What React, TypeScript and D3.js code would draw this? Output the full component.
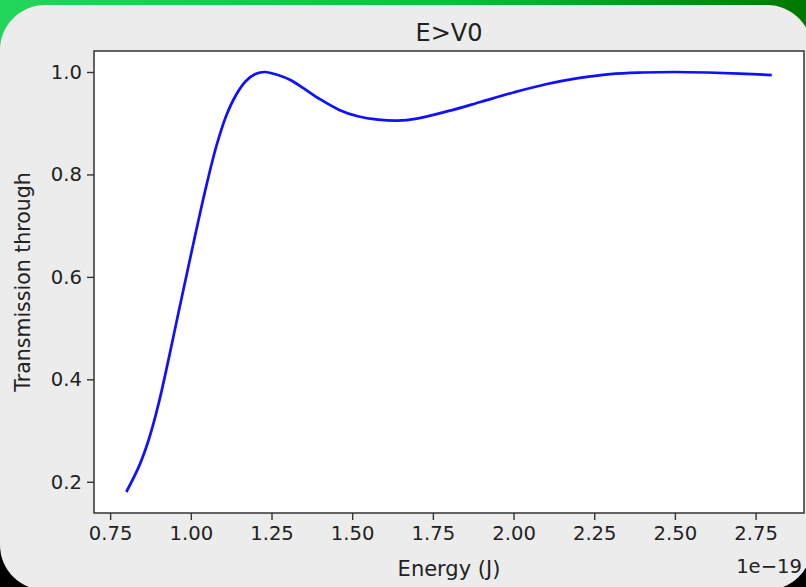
// Transmission through a potential step, E > V0 (matplotlib-style look)
import {useRef, useEffect} from "react";
import * as d3 from "d3";

// energy in units of 1e-19 J
const energy = [0.80, 0.84, 0.87, 0.90, 0.93, 0.96, 0.99, 1.02, 1.05, 1.08, 1.11, 1.14, 1.17, 1.20,
  1.23, 1.27, 1.31, 1.35, 1.40, 1.46, 1.52, 1.58, 1.64, 1.70, 1.80, 1.90, 2.00, 2.10, 2.20, 2.30,
  2.40, 2.50, 2.60, 2.70, 2.80];
const transmission = [0.180, 0.231, 0.283, 0.352, 0.436, 0.525, 0.613, 0.700, 0.783, 0.857, 0.915,
  0.955, 0.982, 0.996, 1.000, 0.994, 0.984, 0.968, 0.947, 0.926, 0.913, 0.907, 0.905, 0.909, 0.924,
  0.942, 0.960, 0.976, 0.988, 0.996, 0.999, 1.000, 0.999, 0.997, 0.994];
const xTicks = [0.75, 1.00, 1.25, 1.50, 1.75, 2.00, 2.25, 2.50, 2.75];
const yTicks = [0.2, 0.4, 0.6, 0.8, 1.0];

const title = "E>V0";
const xLabel = "Energy (J)";
const yLabel = "Transmission through";
const offsetLabel = "1e\u221219";

const W = 806, H = 587;
const left = 94, right = 804, top = 51, bottom = 513;
const FONT = "'DejaVu Sans', sans-serif";
const TXT = "#222";

export default function App() {
  const gx = useRef<SVGGElement>(null);
  const gy = useRef<SVGGElement>(null);

  const x = d3.scaleLinear([0.7, 2.9], [left, right]);
  const y = d3.scaleLinear([0.139, 1.041], [bottom, top]);
  const pts = energy.map((e, i) => [e, transmission[i]] as [number, number]);
  const line = d3.line<[number, number]>(d => x(d[0]), d => y(d[1])).curve(d3.curveCatmullRom.alpha(0.5));

  useEffect(() => {
    const ax = d3.select(gx.current!)
      .call(d3.axisBottom(x).tickValues(xTicks).tickFormat(d3.format(".2f")).tickSize(7).tickPadding(6));
    ax.select(".domain").remove();
    ax.selectAll("line").attr("stroke", "#333").attr("stroke-width", 1.4);
    ax.selectAll("text").attr("fill", TXT).attr("font-size", 19.6).attr("font-family", FONT);

    const ay = d3.select(gy.current!)
      .call(d3.axisLeft(y).tickValues(yTicks).tickFormat(d3.format(".1f")).tickSize(7).tickPadding(5));
    ay.select(".domain").remove();
    ay.selectAll("line").attr("stroke", "#333").attr("stroke-width", 1.4);
    ay.selectAll("text").attr("fill", TXT).attr("font-size", 19.6).attr("font-family", FONT);
  }, []);

  return (
    <div style={{position: "absolute", left: 0, top: 0}}>
      <svg width={W} height={H} style={{display: "block"}}>
        <defs>
          <linearGradient id="grn" x1="0" x2="1" y1="0" y2="0">
            <stop offset="0" stopColor="#22d65c" />
            <stop offset="0.55" stopColor="#07c43c" />
            <stop offset="1" stopColor="#007800" />
          </linearGradient>
        </defs>
        {/* window backdrop */}
        <rect x={0} y={0} width={W} height={H} fill="#000" />
        <rect x={0} y={0} width={W} height={300} fill="url(#grn)" />
        <rect x={0} y={5} width={812} height={585} rx={45} ry={45} fill="#ececec" />

        {/* plot area */}
        <rect x={left} y={top} width={right - left} height={bottom - top} fill="#fff" />
        <path d={line(pts) ?? ""} fill="none" stroke="#1010ff" strokeWidth={2.7} strokeLinejoin="round" />
        <rect x={left} y={top} width={right - left} height={bottom - top} fill="none" stroke="#333" strokeWidth={1.5} />

        <g ref={gx} transform={`translate(0,${bottom})`} />
        <g ref={gy} transform={`translate(${left},0)`} />

        <text x={(left + right) / 2} y={41} textAnchor="middle" fontFamily={FONT} fontSize={24} fill={TXT}>{title}</text>
        <text x={(left + right) / 2} y={576} textAnchor="middle" fontFamily={FONT} fontSize={21} fill={TXT}>{xLabel}</text>
        <text x={right - 2} y={573} textAnchor="end" fontFamily={FONT} fontSize={19.6} fill={TXT}>{offsetLabel}</text>
        <text transform={`translate(29.5,${(top + bottom) / 2}) rotate(-90)`} textAnchor="middle"
          fontFamily={FONT} fontSize={20.5} fill={TXT}>{yLabel}</text>
      </svg>
    </div>
  );
}
